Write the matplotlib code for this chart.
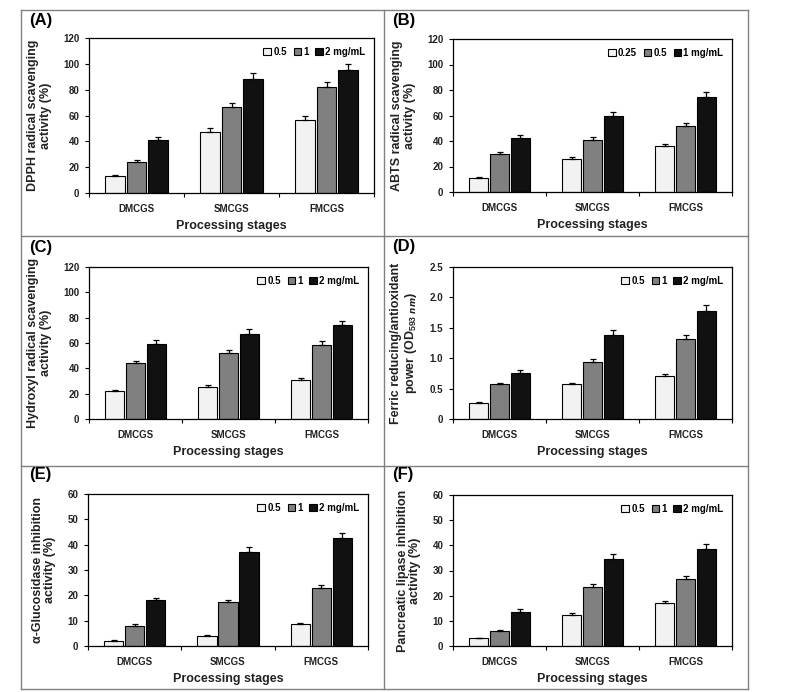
import matplotlib
matplotlib.use('Agg')
import matplotlib.pyplot as plt
import numpy as np
from matplotlib.patches import Patch
from matplotlib.lines import Line2D
from matplotlib.ticker import FuncFormatter

plt.rcParams['font.family'] = ['Liberation Sans', 'DejaVu Sans']
plt.rcParams['font.weight'] = 'bold'
plt.rcParams['mathtext.fontset'] = 'custom'
plt.rcParams['mathtext.rm'] = 'Liberation Sans:bold'
plt.rcParams['mathtext.bf'] = 'Liberation Sans:bold'

stages = ['DMCGS', 'SMCGS', 'FMCGS']

# values per concentration (rows) and stage (columns)
dpph = [[13, 47.5, 56.5], [24, 66.5, 82], [41, 88.5, 95.5]]
dpph_err = [[0.8, 2.5, 3], [1.2, 3.5, 4.2], [2, 4.5, 4.5]]
abts = [[11, 26, 36], [29.5, 41, 52], [42, 60, 74.5]]
abts_err = [[0.5, 1.5, 2], [1.5, 2, 2.5], [2.5, 3, 4]]
hydroxyl = [[22, 25.5, 30.5], [44, 52, 58.5], [59, 67.5, 74]]
hydroxyl_err = [[1, 1, 1.5], [2, 2.5, 3], [3, 3.5, 3.5]]
frap = [[0.26, 0.57, 0.71], [0.57, 0.94, 1.31], [0.75, 1.38, 1.77]]
frap_err = [[0.02, 0.03, 0.03], [0.02, 0.05, 0.07], [0.05, 0.08, 0.1]]
glucosidase = [[2, 4, 8.5], [8, 17.3, 23], [18, 37, 42.5]]
glucosidase_err = [[0.2, 0.3, 0.5], [0.5, 0.8, 1.2], [1, 2, 2]]
lipase = [[3, 12.5, 17], [6, 23.5, 26.5], [13.7, 34.5, 38.5]]
lipase_err = [[0.3, 0.8, 0.8], [0.4, 1.2, 1.5], [1, 2, 2]]

conc_std = ['0.5', '1', '2 mg/mL']
conc_abts = ['0.25', '0.5', '1 mg/mL']

colors = ['#f2f2f2', '#808080', '#111111']

W, H = 785, 692
fig = plt.figure(figsize=(W / 100, H / 100), dpi=100)

def box(l, r, t, b):
    return [l / W, 1 - b / H, (r - l) / W, (b - t) / H]

panels = [
    ('(A)', box(89, 374, 38, 193), dpph, dpph_err, conc_std, 'DPPH radical scavenging\nactivity (%)', 120, 20, (29, 20)),
    ('(B)', box(453, 732, 39, 192), abts, abts_err, conc_abts, 'ABTS radical scavenging\nactivity (%)', 120, 20, (392, 20)),
    ('(C)', box(89, 368, 267, 419), hydroxyl, hydroxyl_err, conc_std, 'Hydroxyl radical scavenging\nactivity (%)', 120, 20, (29, 248)),
    ('(D)', box(453, 732, 267, 419), frap, frap_err, conc_std, 'Ferric reducing/antioxidant\npower (OD$_{593\\ nm}$)', 2.5, 0.5, (392, 247)),
    ('(E)', box(88, 368, 494, 646), glucosidase, glucosidase_err, conc_std, 'α-Glucosidase inhibition\nactivity (%)', 60, 10, (29, 475)),
    ('(F)', box(453, 732, 495, 646), lipase, lipase_err, conc_std, 'Pancreatic lipase inhibition\nactivity (%)', 60, 10, (392, 475)),
]

x = np.arange(len(stages))
bw = 0.21
step = 0.225

for label, pos, vals, errs, concs, ylab, ymax, ystep, lpos in panels:
    ax = fig.add_axes(pos)
    for i in range(3):
        xi = x + (i - 1) * step
        ax.bar(xi, vals[i], width=bw, color=colors[i], edgecolor='black', linewidth=0.8, zorder=2)
        ax.errorbar(xi, vals[i], yerr=[np.zeros(3), errs[i]], fmt='none', ecolor='black',
                    elinewidth=0.9, capsize=2, capthick=0.9, zorder=3)
    ax.set_xlim(-0.5, 2.5)
    ax.set_ylim(0, ymax)
    ax.set_yticks(np.arange(0, ymax + ystep / 2, ystep))
    if ymax < 10:
        ax.yaxis.set_major_formatter(FuncFormatter(lambda v, p: '0' if v == 0 else '%.1f' % v))
    ax.set_xticks([-0.5, 0.5, 1.5, 2.5])
    ax.set_xticklabels([])
    ax.set_xticks(x, minor=True)
    ax.set_xticklabels(stages, minor=True)
    ax.tick_params(axis='x', which='major', direction='out', length=3, width=0.8)
    ax.tick_params(axis='x', which='minor', length=0, pad=8, labelsize=7, colors='#222222')
    ax.tick_params(axis='y', direction='out', length=3, width=0.8, labelsize=7, pad=4, colors='#222222')
    ax.tick_params(axis='both', color='black')
    for s in ax.spines.values():
        s.set_linewidth(0.9)
    ax.set_xlabel('Processing stages', fontsize=9, fontweight='bold', labelpad=4, color='#222222')
    ax.set_ylabel(ylab, fontsize=9, fontweight='bold', labelpad=8, linespacing=1.05, color='#222222')
    handles = [Patch(facecolor=colors[i], edgecolor='black', linewidth=0.8) for i in range(3)]
    ax.legend(handles, concs, loc='upper right', ncol=3, frameon=False,
              handlelength=0.8, handleheight=0.8, handletextpad=0.2, columnspacing=0.7,
              borderaxespad=0.5, prop={'weight': 'bold', 'size': 7})
    fig.text(lpos[0] / W, 1 - lpos[1] / H, label, fontsize=12, fontweight='bold', va='center', ha='left')

# table-like frame around the panels
gray = '#808080'
xl, xm, xr = 21 / W, 384 / W, 748 / W
yt, y1, y2, yb = 1 - 9.5 / H, 1 - 236 / H, 1 - 466 / H, 1 - 689 / H
for xs, ys in [([xl, xr], [yt, yt]), ([xl, xr], [y1, y1]), ([xl, xr], [y2, y2]), ([xl, xr], [yb, yb]),
               ([xl, xl], [yt, yb]), ([xm, xm], [yt, yb]), ([xr, xr], [yt, yb])]:
    fig.add_artist(Line2D(xs, ys, color=gray, linewidth=1.0))

fig.savefig('out.png', dpi=100)
